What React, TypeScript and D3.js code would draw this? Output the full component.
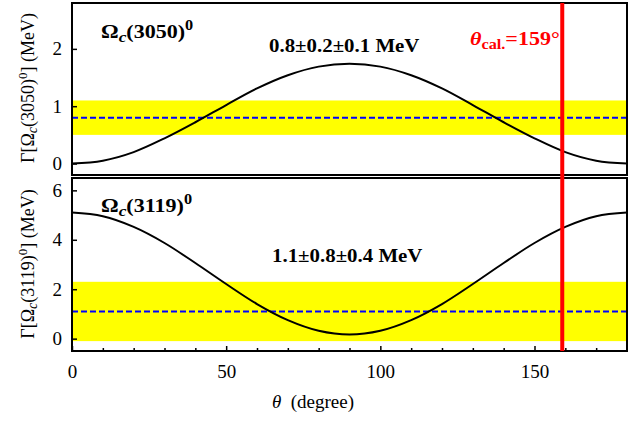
import React, { useRef, useEffect } from 'react';
import * as d3 from 'd3';

// theta grid (degree) and widths
const thetaDeg = [0, 10, 20, 30, 40, 50, 60, 70, 80, 90, 100, 110, 120, 130, 140, 150, 160, 170, 180];
const width3050 = [0, 0.05, 0.2, 0.44, 0.72, 1.02, 1.31, 1.54, 1.69, 1.74, 1.69, 1.54, 1.31, 1.02, 0.72, 0.44, 0.2, 0.05, 0];
const width3119 = [5.1, 4.95, 4.52, 3.87, 3.06, 2.21, 1.4, 0.75, 0.32, 0.17, 0.32, 0.75, 1.4, 2.21, 3.06, 3.87, 4.52, 4.95, 5.1];

// measured widths: [central, low, high]
const exp3050 = [0.8, 0.5, 1.1];
const exp3119 = [1.1, -0.1, 2.3];

const thetaCal = 159;
const xTicks = [0, 50, 100, 150];
const yTicksTop = [0, 1, 2];
const yTicksBottom = [0, 2, 4, 6];

const FONT = "'Liberation Serif', 'DejaVu Serif', serif";

export default function App() {
    const svgRef = useRef<SVGSVGElement>(null);
    const width = 644;
    const height = 424;

    useEffect(() => {
        const svg = d3.select(svgRef.current);
        svg.selectAll('*').remove();

        const left = 72;
        const right = 627;
        const stretch = 1.16; // bold labels in the figure are a bit wide

        const x = d3.scaleLinear().domain([0, 180]).range([left, right]);

        const panels = [
            {
                top: 3, bottom: 175, domain: [-0.2, 2.8], ticks: yTicksTop,
                values: width3050, exp: exp3050, name: '3050',
                label: '0.8±0.2±0.1 MeV', labelX: 269, labelY: 52, nameY: 38,
                titleY: 88, minorX: false
            },
            {
                top: 178, bottom: 351, domain: [-0.5, 6.5], ticks: yTicksBottom,
                values: width3119, exp: exp3119, name: '3119',
                label: '1.1±0.8±0.4 MeV', labelX: 272, labelY: 262, nameY: 212,
                titleY: 264, minorX: true
            }
        ];

        panels.forEach(p => {
            const y = d3.scaleLinear().domain(p.domain).range([p.bottom, p.top]);
            const g = svg.append('g');

            const clipId = `clip-${p.name}`;
            g.append('clipPath').attr('id', clipId)
                .append('rect')
                .attr('x', left).attr('y', p.top)
                .attr('width', right - left).attr('height', p.bottom - p.top);

            const inner = g.append('g').attr('clip-path', `url(#${clipId})`);

            // yellow experimental band
            inner.append('rect')
                .attr('x', left)
                .attr('y', y(p.exp[2]))
                .attr('width', right - left)
                .attr('height', y(p.exp[1]) - y(p.exp[2]))
                .attr('fill', '#ffff00');

            // dashed central value
            inner.append('line')
                .attr('x1', left).attr('x2', right)
                .attr('y1', y(p.exp[0])).attr('y2', y(p.exp[0]))
                .attr('stroke', '#0000ff')
                .attr('stroke-width', 2)
                .attr('stroke-dasharray', '6,3');

            // theoretical curve
            const line = d3.line<number>()
                .x((d, i) => x(thetaDeg[i]))
                .y(d => y(d))
                .curve(d3.curveCatmullRom.alpha(0.5));
            inner.append('path')
                .datum(p.values)
                .attr('fill', 'none')
                .attr('stroke', 'black')
                .attr('stroke-width', 2)
                .attr('d', line);

            // y axis ticks and labels
            g.append('g')
                .attr('transform', `translate(${left},0)`)
                .attr('font-family', FONT)
                .call(d3.axisLeft(y).tickValues(p.ticks).tickSize(-5).tickPadding(10).tickFormat(d3.format('d')))
                .call(s => s.select('.domain').remove())
                .call(s => s.selectAll('.tick line').attr('stroke', 'black').attr('stroke-width', 1.5))
                .call(s => s.selectAll('.tick text')
                    .attr('font-size', 19)
                    .attr('font-family', FONT)
                    .attr('fill', 'black'));

            // x axis ticks
            if (p.minorX) {
                g.append('g')
                    .attr('transform', `translate(0,${p.bottom})`)
                    .call(d3.axisBottom(x).tickValues(d3.range(10, 180, 10).filter(v => v % 50 !== 0)).tickSize(-3).tickFormat(() => ''))
                    .call(s => s.select('.domain').remove())
                    .call(s => s.selectAll('.tick line').attr('stroke', 'black').attr('stroke-width', 1.5));
                g.append('g')
                    .attr('transform', `translate(0,${p.bottom})`)
                    .attr('font-family', FONT)
                    .call(d3.axisBottom(x).tickValues(xTicks).tickSize(-5).tickPadding(14).tickFormat(d3.format('d')))
                    .call(s => s.select('.domain').remove())
                    .call(s => s.selectAll('.tick line').attr('stroke', 'black').attr('stroke-width', 1.5))
                    .call(s => s.selectAll('.tick text')
                        .attr('font-size', 19)
                        .attr('font-family', FONT)
                        .attr('fill', 'black'));
            }

            // frame
            g.append('rect')
                .attr('x', left).attr('y', p.top)
                .attr('width', right - left).attr('height', p.bottom - p.top)
                .attr('fill', 'none')
                .attr('stroke', 'black')
                .attr('stroke-width', 2);

            // particle name
            const nm = g.append('text')
                .attr('transform', `translate(101,${p.nameY}) scale(${stretch},1)`)
                .attr('font-family', FONT)
                .attr('font-weight', 'bold')
                .attr('font-size', 19)
                .attr('fill', 'black');
            nm.append('tspan').text('Ω');
            nm.append('tspan').attr('font-style', 'italic').attr('font-size', 15).attr('dy', 4).text('c');
            nm.append('tspan').attr('dy', -4).text(`(${p.name})`);
            nm.append('tspan').attr('font-size', 14).attr('dy', -8).text('0');

            // measured value
            g.append('text')
                .attr('transform', `translate(${p.labelX},${p.labelY}) scale(${stretch},1)`)
                .attr('font-family', FONT)
                .attr('font-weight', 'bold')
                .attr('font-size', 18)
                .attr('fill', 'black')
                .text(p.label);

            // rotated y title
            const t = g.append('text')
                .attr('transform', `translate(34,${p.titleY}) rotate(-90)`)
                .attr('text-anchor', 'middle')
                .attr('font-family', FONT)
                .attr('font-size', 18)
                .attr('fill', 'black');
            t.append('tspan').text('Γ[Ω');
            t.append('tspan').attr('font-style', 'italic').attr('font-size', 14).attr('dy', 3).text('c');
            t.append('tspan').attr('dy', -3).text(`(${p.name})`);
            t.append('tspan').attr('font-size', 13).attr('dy', -7).text('0');
            t.append('tspan').attr('dy', 7).text('] (MeV)');
        });

        // calculated angle
        svg.append('line')
            .attr('x1', x(thetaCal)).attr('x2', x(thetaCal))
            .attr('y1', 3).attr('y2', 351)
            .attr('stroke', '#ff0000')
            .attr('stroke-width', 4);

        const rl = svg.append('text')
            .attr('transform', `translate(470,45) scale(${stretch},1)`)
            .attr('font-family', FONT)
            .attr('font-weight', 'bold')
            .attr('font-size', 19)
            .attr('fill', '#ff0000');
        rl.append('tspan').attr('font-style', 'italic').text('θ');
        rl.append('tspan').attr('font-size', 14).attr('dy', 4).text('cal.');
        rl.append('tspan').attr('dy', -4).text('=159°');

        // x title
        const xt = svg.append('text')
            .attr('x', 313).attr('y', 408)
            .attr('text-anchor', 'middle')
            .attr('font-family', FONT)
            .attr('font-size', 19)
            .attr('fill', 'black');
        xt.append('tspan').attr('font-style', 'italic').text('θ');
        xt.append('tspan').attr('xml:space', 'preserve').text('  (degree)');
    }, []);

    return <svg ref={svgRef} width={width} height={height} style={{ position: 'absolute', left: 0, top: 0, background: 'white' }} />;
}
